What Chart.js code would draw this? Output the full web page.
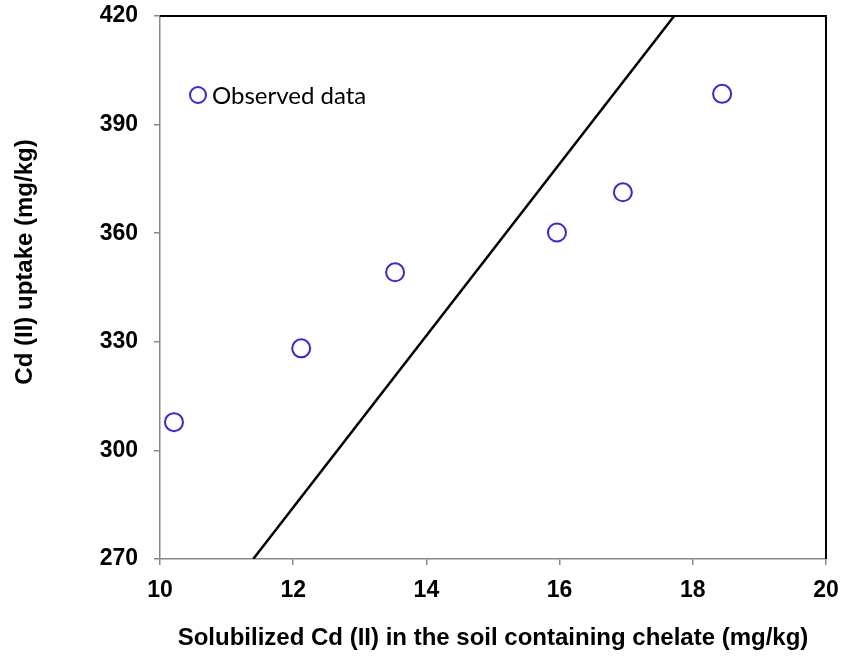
<!DOCTYPE html>
<html>
<head>
<meta charset="utf-8">
<script src="https://cdn.jsdelivr.net/npm/chart.js@4.4.1/dist/chart.umd.min.js"></script>
<style>
html,body{margin:0;padding:0;background:#fff;}
#wrap{width:843px;height:657px;}
</style>
</head>
<body>
<div id="wrap"><canvas id="c" width="843" height="657"></canvas></div>
<script>
const observedX = [10.21, 12.12, 13.53, 15.96, 16.95, 18.44];
const observedY = [307.8, 328.2, 349.2, 360.2, 371.3, 398.5];
const fitX = [11.40, 17.72];
const fitY = [270, 420];
const xTicks = [10, 12, 14, 16, 18, 20];
const yTicks = [270, 300, 330, 360, 390, 420];
const seriesLabel = 'Observed data';
const xTitle = 'Solubilized Cd (II) in the soil containing chelate (mg/kg)';
const yTitle = 'Cd (II) uptake (mg/kg)';

const observed = observedX.map((x, i) => ({x: x, y: observedY[i]}));
const fit = fitX.map((x, i) => ({x: x, y: fitY[i]}));

const framePlugin = {
  id: 'frame',
  afterDatasetsDraw(chart) {
    const {ctx, chartArea: a} = chart;
    ctx.save();
    ctx.strokeStyle = '#000';
    ctx.lineWidth = 2;
    ctx.beginPath();
    ctx.moveTo(a.left, a.top);
    ctx.lineTo(a.right, a.top);
    ctx.lineTo(a.right, a.bottom);
    ctx.stroke();
    ctx.restore();
  }
};

const annotPlugin = {
  id: 'annot',
  afterDraw(chart) {
    const ctx = chart.ctx;
    const ds = chart.data.datasets[0];
    ctx.save();
    // legend
    ctx.beginPath();
    ctx.arc(198, 95, 8, 0, Math.PI * 2);
    ctx.fillStyle = '#fff';
    ctx.fill();
    ctx.lineWidth = 2;
    ctx.strokeStyle = ds.borderColor;
    ctx.stroke();
    ctx.fillStyle = '#000';
    ctx.font = '24px Lato';
    ctx.textBaseline = 'middle';
    ctx.textAlign = 'left';
    ctx.fillText(ds.label, 212, 96);
    // y title
    ctx.font = 'bold 24px "Liberation Sans"';
    ctx.translate(25, 262);
    ctx.rotate(-Math.PI / 2);
    ctx.textAlign = 'center';
    ctx.fillText(yTitle, 0, 0);
    ctx.restore();
  }
};

new Chart(document.getElementById('c'), {
  type: 'scatter',
  data: {
    datasets: [
      {
        label: seriesLabel,
        data: observed,
        pointRadius: 9,
        pointHoverRadius: 9,
        pointBorderWidth: 2,
        borderColor: '#3A22E8',
        backgroundColor: '#ffffff',
        showLine: false,
        order: 1
      },
      {
        label: 'fit',
        data: fit,
        showLine: true,
        borderColor: '#000',
        borderWidth: 2.5,
        pointRadius: 0,
        fill: false,
        order: 2
      }
    ]
  },
  options: {
    responsive: false,
    animation: false,
    devicePixelRatio: 1,
    layout: {padding: {left: 0, right: 17, top: 16, bottom: 0}},
    plugins: {
      legend: {display: false},
      tooltip: {enabled: false}
    },
    scales: {
      x: {
        type: 'linear',
        min: 10, max: 20,
        afterFit(s) { s.height = 98; s.paddingLeft = 0; s.paddingRight = 0; },
        afterBuildTicks(s) { s.ticks = xTicks.map(v => ({value: v})); },
        grid: {display: true, drawOnChartArea: false, drawTicks: true, tickLength: 6, color: '#888', lineWidth: 1.5},
        border: {display: true, color: '#888', width: 1.5},
        ticks: {
          color: '#000',
          padding: 12,
          maxRotation: 0,
          font: {family: '"Liberation Sans"', size: 23, weight: 'bold'}
        },
        title: {
          display: true,
          text: xTitle,
          color: '#000',
          padding: {top: 13},
          font: {family: '"Liberation Sans"', size: 24, weight: 'bold'}
        }
      },
      y: {
        type: 'linear',
        min: 270, max: 420,
        afterFit(s) { s.width = 160; s.paddingTop = 0; s.paddingBottom = 0; },
        afterBuildTicks(s) { s.ticks = yTicks.map(v => ({value: v})); },
        grid: {display: true, drawOnChartArea: false, drawTicks: true, tickLength: 6, color: '#888', lineWidth: 1.5},
        border: {display: true, color: '#888', width: 1.5},
        ticks: {
          color: '#000',
          padding: 16,
          font: {family: '"Liberation Sans"', size: 23, weight: 'bold'}
        }
      }
    }
  },
  plugins: [framePlugin, annotPlugin]
});
</script>
</body>
</html>
